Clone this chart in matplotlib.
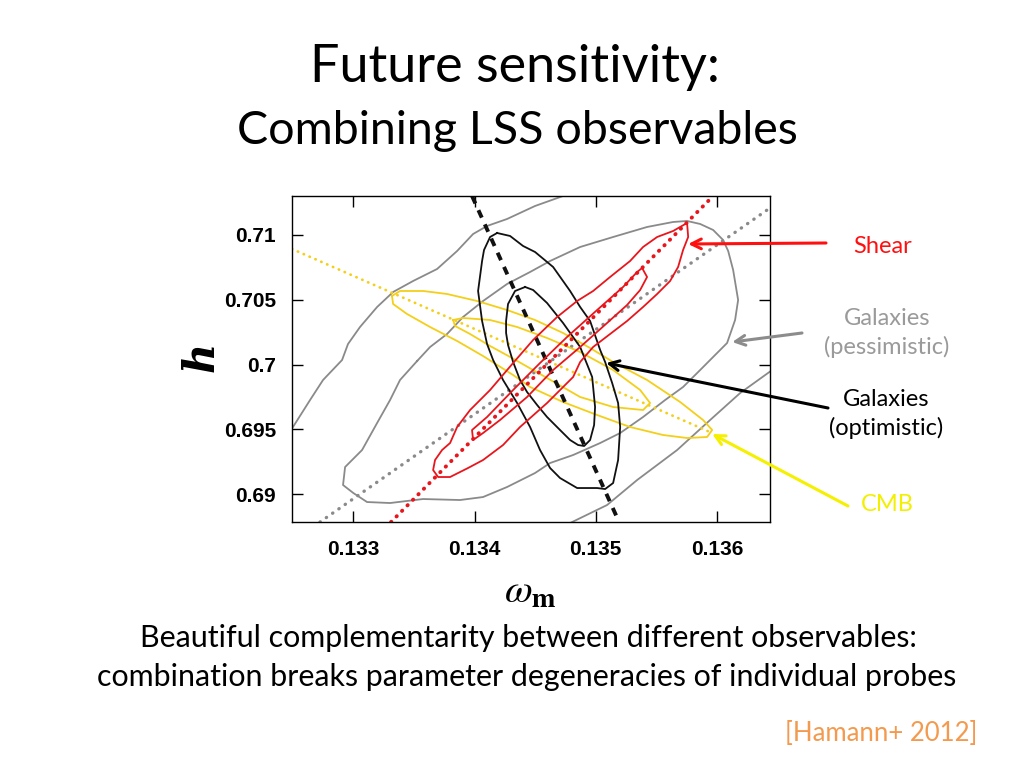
import matplotlib
matplotlib.use("Agg")
import matplotlib.pyplot as plt

# ---------------- data ----------------
x_ticks = [0.133, 0.134, 0.135, 0.136]
x_tick_labels = ["0.133", "0.134", "0.135", "0.136"]
y_ticks = [0.69, 0.695, 0.70, 0.705, 0.71]
y_tick_labels = ["0.69", "0.695", "0.7", "0.705", "0.71"]
x_range = (0.132494, 0.136437)
y_range = (0.68784, 0.71301)

# Galaxies (pessimistic) - outer contour, two open branches
gal_pess_outer_a_x = [0.132502, 0.132643, 0.132750, 0.132907, 0.132956, 0.133055, 0.133196, 0.133328,
                      0.133493, 0.133691, 0.133856, 0.133988, 0.134103, 0.134268, 0.134499, 0.134730]
gal_pess_outer_a_y = [0.695174, 0.697259, 0.698803, 0.700347, 0.701583, 0.702896, 0.704440, 0.705598,
                      0.706448, 0.707375, 0.708764, 0.710077, 0.710695, 0.711235, 0.712239, 0.713011]
gal_pess_outer_b_x = [0.134788, 0.135093, 0.135341, 0.135671, 0.135943, 0.136191, 0.136455]
gal_pess_outer_b_y = [0.687761, 0.689151, 0.691081, 0.693398, 0.695714, 0.697799, 0.699575]
# Galaxies (pessimistic) - inner closed contour
gal_pess_inner_x = [0.133526, 0.133385, 0.133303, 0.133196, 0.133072, 0.132932, 0.132915, 0.133000,
                    0.133113, 0.133303, 0.133575, 0.133880, 0.134070, 0.134268, 0.134499, 0.134623,
                    0.134813, 0.135036, 0.135201, 0.135390, 0.135572, 0.135720, 0.135861, 0.135943,
                    0.136083, 0.136149, 0.136174, 0.136133, 0.136092, 0.136050, 0.135968, 0.135861,
                    0.135753, 0.135638, 0.135423, 0.135143, 0.134871, 0.134623, 0.134458, 0.134268,
                    0.134070, 0.133905, 0.133773, 0.133633, 0.133526]
gal_pess_inner_y = [0.700270, 0.698803, 0.697259, 0.695483, 0.693398, 0.692085, 0.690695, 0.690077,
                    0.689382, 0.689305, 0.689614, 0.689537, 0.689768, 0.690541, 0.691622, 0.692394,
                    0.693012, 0.693938, 0.694710, 0.695946, 0.697259, 0.698263, 0.699575, 0.700347,
                    0.701660, 0.703436, 0.704981, 0.707297, 0.708764, 0.709614, 0.710386, 0.710849,
                    0.711081, 0.711004, 0.710618, 0.709845, 0.709073, 0.707992, 0.707143, 0.706216,
                    0.704903, 0.703668, 0.702355, 0.701351, 0.700270]

# Galaxies (optimistic)
gal_opt_outer_x = [0.134186, 0.134128, 0.134078, 0.134062, 0.134029, 0.134062, 0.134103, 0.134153,
                   0.134235, 0.134351, 0.134458, 0.134540, 0.134623, 0.134705, 0.134846, 0.135011,
                   0.135077, 0.135143, 0.135184, 0.135201, 0.135184, 0.135135, 0.135077, 0.135036,
                   0.134953, 0.134871, 0.134788, 0.134648, 0.134499, 0.134400, 0.134293, 0.134186]
gal_opt_outer_y = [0.710154, 0.709845, 0.708842, 0.707992, 0.705676, 0.703359, 0.701583, 0.700347,
                   0.698803, 0.697027, 0.695174, 0.693398, 0.692008, 0.691236, 0.690463, 0.690463,
                   0.690386, 0.690849, 0.692625, 0.695174, 0.697027, 0.698571, 0.700193, 0.701120,
                   0.703359, 0.704440, 0.705676, 0.707529, 0.708687, 0.709151, 0.709923, 0.710154]
gal_opt_inner_x = [0.134417, 0.134334, 0.134276, 0.134260, 0.134260, 0.134276, 0.134318, 0.134375,
                   0.134433, 0.134516, 0.134598, 0.134705, 0.134788, 0.134854, 0.134904, 0.134953,
                   0.134986, 0.134994, 0.134970, 0.134871, 0.134730, 0.134598, 0.134483, 0.134417]
gal_opt_inner_y = [0.705985, 0.705676, 0.704672, 0.703359, 0.702432, 0.701506, 0.700193, 0.698803,
                   0.697876, 0.696873, 0.695946, 0.694942, 0.694170, 0.693784, 0.693707, 0.694170,
                   0.695328, 0.696718, 0.699035, 0.701351, 0.703205, 0.704749, 0.705753, 0.705985]

# Shear
shear_outer_x = [0.135753, 0.135762, 0.135720, 0.135679, 0.135613, 0.135506, 0.135390, 0.135258,
                 0.135118, 0.134978, 0.134871, 0.134813, 0.134598, 0.134375, 0.134235, 0.134070,
                 0.133946, 0.133798, 0.133699, 0.133658, 0.133674, 0.133732, 0.133798, 0.133856,
                 0.133963, 0.134128, 0.134318, 0.134483, 0.134681, 0.134846, 0.134978, 0.135118,
                 0.135283, 0.135390, 0.135506, 0.135638, 0.135753]
shear_outer_y = [0.710927, 0.709845, 0.708842, 0.707529, 0.706448, 0.705444, 0.704440, 0.703359,
                 0.702355, 0.701351, 0.700193, 0.699035, 0.697027, 0.695174, 0.693784, 0.692625,
                 0.692008, 0.691313, 0.691313, 0.691853, 0.692625, 0.693398, 0.693938, 0.695174,
                 0.696486, 0.698031, 0.700116, 0.701892, 0.703668, 0.704903, 0.705676, 0.706757,
                 0.707992, 0.709073, 0.709845, 0.710309, 0.710927]
shear_inner_x = [0.135382, 0.135423, 0.135366, 0.135258, 0.135093, 0.134871, 0.134648, 0.134433,
                 0.134210, 0.134070, 0.133988, 0.133979, 0.134103, 0.134318, 0.134540, 0.134763,
                 0.135011, 0.135225, 0.135341, 0.135382]
shear_inner_y = [0.707452, 0.706757, 0.705753, 0.704595, 0.703205, 0.701351, 0.699575, 0.697490,
                 0.695714, 0.694710, 0.694170, 0.694942, 0.695946, 0.698031, 0.700116, 0.702124,
                 0.704208, 0.705985, 0.707143, 0.707452]

# CMB
cmb_outer_x = [0.133319, 0.133385, 0.133575, 0.133773, 0.134021, 0.134268, 0.134499, 0.134730,
               0.134953, 0.135143, 0.135423, 0.135696, 0.135885, 0.135960, 0.135918, 0.135753,
               0.135555, 0.135283, 0.135011, 0.134730, 0.134458, 0.134318, 0.134070, 0.133856,
               0.133633, 0.133443, 0.133328, 0.133319]
cmb_outer_y = [0.705290, 0.705676, 0.705676, 0.705444, 0.704903, 0.704208, 0.703436, 0.702432,
               0.701274, 0.700193, 0.698803, 0.697104, 0.695714, 0.694942, 0.694402, 0.694324,
               0.694556, 0.695174, 0.696100, 0.697104, 0.698263, 0.699189, 0.700656, 0.701815,
               0.702896, 0.703900, 0.704672, 0.705290]
cmb_inner_x = [0.133823, 0.133905, 0.134128, 0.134351, 0.134598, 0.134871, 0.135143, 0.135366,
               0.135448, 0.135390, 0.135143, 0.134871, 0.134598, 0.134309, 0.134128, 0.133963,
               0.133839, 0.133823]
cmb_inner_y = [0.703436, 0.703591, 0.703436, 0.702896, 0.702046, 0.700965, 0.699575, 0.698031,
               0.697027, 0.696486, 0.696718, 0.697490, 0.698958, 0.700502, 0.701429, 0.702355,
               0.702973, 0.703436]

# degeneracy lines (end points)
cmb_line_x, cmb_line_y = [0.132494, 0.135960], [0.708919, 0.694710]
shear_line_x, shear_line_y = [0.133311, 0.135968], [0.687840, 0.713010]
pess_line_x, pess_line_y = [0.132725, 0.136437], [0.687840, 0.712085]
opt_line_x, opt_line_y = [0.133979, 0.135192], [0.713010, 0.687840]

# annotation arrow heads (data) and tails (figure fraction)
labels = ["Shear", "Galaxies\n(pessimistic)", "Galaxies\n(optimistic)", "CMB"]
arrow_heads = [(0.135762, 0.709305), (0.136125, 0.701737), (0.135085, 0.700116), (0.135960, 0.694633)]

# ---------------- styling ----------------
RED = "#e8161c"
GRAY = "#8a8a8a"
BLACK = "#111111"
GOLD = "#f4cf1a"
W, H = 1024, 768


def fx(px):
    return px / W


def fy(py):
    return 1 - py / H


plt.rcParams["mathtext.fontset"] = "stix"
fig = plt.figure(figsize=(10.24, 7.68), dpi=100)
fig.patch.set_facecolor("white")
ax = fig.add_axes([fx(292), fy(522), fx(770) - fx(292), fy(196) - fy(522)])

lw = 1.3
# galaxies pessimistic
ax.plot(gal_pess_outer_a_x, gal_pess_outer_a_y, color=GRAY, lw=lw)
ax.plot(gal_pess_outer_b_x, gal_pess_outer_b_y, color=GRAY, lw=lw)
ax.plot(gal_pess_inner_x, gal_pess_inner_y, color=GRAY, lw=lw)
ax.plot(pess_line_x, pess_line_y, color=GRAY, lw=2.4, ls=(0, (0.1, 2.2)), dash_capstyle="round")
# CMB
ax.plot(cmb_outer_x, cmb_outer_y, color=GOLD, lw=lw)
ax.plot(cmb_inner_x, cmb_inner_y, color=GOLD, lw=lw)
ax.plot(cmb_line_x, cmb_line_y, color=GOLD, lw=2.0, ls=(0, (0.1, 2.2)), dash_capstyle="round")
# galaxies optimistic
ax.plot(gal_opt_outer_x, gal_opt_outer_y, color=BLACK, lw=lw)
ax.plot(gal_opt_inner_x, gal_opt_inner_y, color=BLACK, lw=lw)
ax.plot(opt_line_x, opt_line_y, color=BLACK, lw=2.8, ls=(0, (2.1, 1.9)))
# shear
ax.plot(shear_outer_x, shear_outer_y, color=RED, lw=lw)
ax.plot(shear_inner_x, shear_inner_y, color=RED, lw=lw)
ax.plot(shear_line_x, shear_line_y, color=RED, lw=2.8, ls=(0, (0.1, 1.9)), dash_capstyle="round")

ax.set_xlim(*x_range)
ax.set_ylim(*y_range)
ax.set_xticks(x_ticks)
ax.set_xticklabels(x_tick_labels)
ax.set_yticks(y_ticks)
ax.set_yticklabels(y_tick_labels)
ax.tick_params(direction="in", length=8, width=1, top=True, right=True,
               labelsize=15, pad=13)
ax.tick_params(axis="y", pad=11.5)
for lab in ax.get_xticklabels() + ax.get_yticklabels():
    lab.set_fontweight("bold")
    lab.set_family("Liberation Sans")
for s in ax.spines.values():
    s.set_linewidth(1.0)

# axis labels
fig.text(fx(530), fy(592), r"$\omega_{\mathbf{m}}$", fontsize=29, ha="center", va="center")
fig.text(fx(202), fy(357), "h", fontsize=30, ha="center", va="center", rotation=90,
         family="DejaVu Serif", style="italic", fontweight="bold")

# annotations
tails = [(fx(826), fy(243)), (fx(802), fy(333)), (fx(828), fy(408)), (fx(848), fy(506))]
arrow_colors = ["#ff1010", "#8c8c8c", "#000000", "#f5f000"]
for head, tail, c in zip(arrow_heads, tails, arrow_colors):
    ax.annotate("", xy=head, xycoords="data", xytext=tail, textcoords="figure fraction",
                annotation_clip=False,
                arrowprops=dict(arrowstyle="->,head_length=0.7,head_width=0.35", color=c, lw=2.2,
                                shrinkA=0, shrinkB=0))

text_font = ["Lato", "DejaVu Sans"]
fig.text(fx(883), fy(253), labels[0], color="#ff1010", fontsize=17, ha="center", va="baseline", family=text_font)
fig.text(fx(887), fy(333), labels[1], color="#9a9a9a", fontsize=17, ha="center", va="center",
         family=text_font, linespacing=1.35)
fig.text(fx(886), fy(414), labels[2], color="#000000", fontsize=17, ha="center", va="center",
         family=text_font, linespacing=1.35)
fig.text(fx(887), fy(511), labels[3], color="#f2f000", fontsize=17, ha="center", va="baseline", family=text_font)

# slide texts
fig.text(fx(515), fy(82), "Future sensitivity:", fontsize=37.5, ha="center", va="baseline", family=text_font)
fig.text(fx(517), fy(144), "Combining LSS observables", fontsize=33.5, ha="center", va="baseline", family=text_font)
fig.text(fx(528), fy(647), "Beautiful complementarity between different observables:", fontsize=21.9,
         ha="center", va="baseline", family=text_font)
fig.text(fx(527), fy(686), "combination breaks parameter degeneracies of individual probes", fontsize=21.9,
         ha="center", va="baseline", family=text_font)
fig.text(fx(977), fy(741), "[Hamann+ 2012]", fontsize=18.5, ha="right", va="baseline", color="#f39a4e",
         family=text_font)

fig.savefig("out.png", dpi=100, facecolor="white")
